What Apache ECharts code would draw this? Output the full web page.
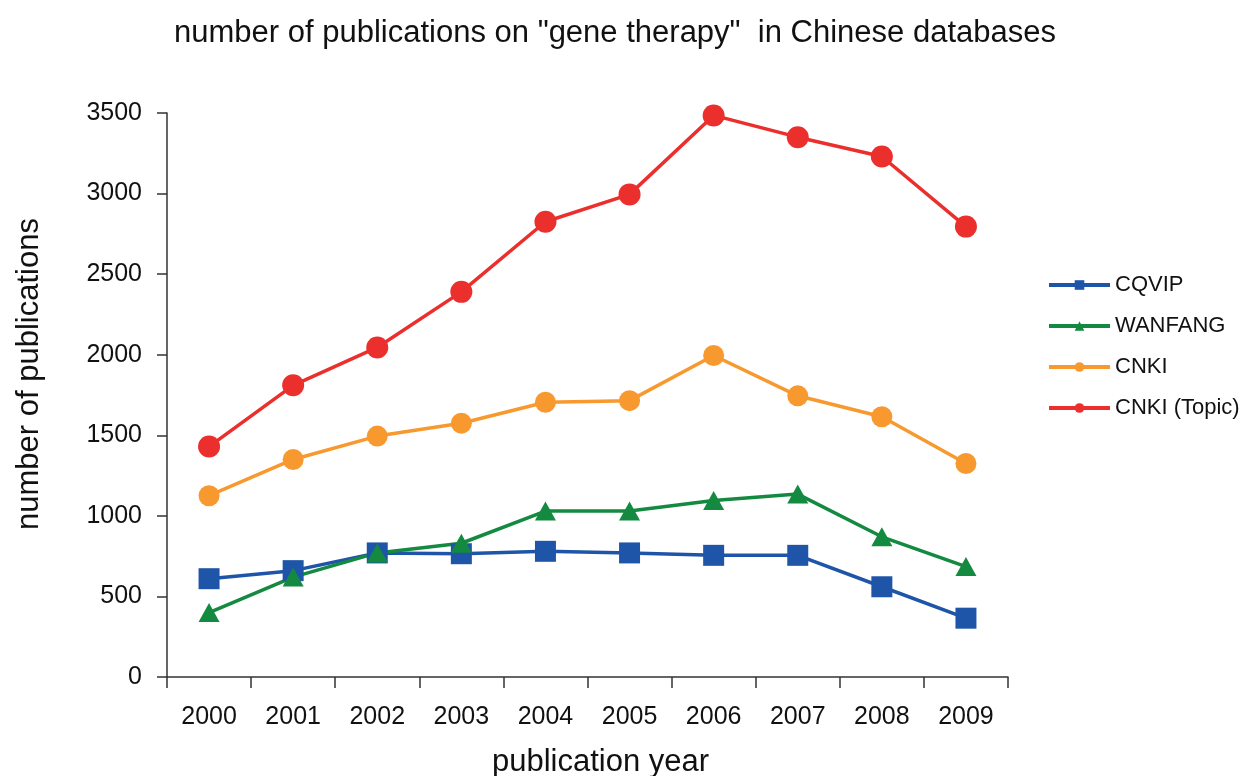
<!DOCTYPE html>
<html>
<head>
<meta charset="utf-8">
<script src="https://cdn.jsdelivr.net/npm/echarts@6/dist/echarts.min.js"></script>
<style>
  html, body { margin: 0; padding: 0; background: #fff; }
  #main { width: 1241px; height: 776px; }
</style>
</head>
<body>
<div id="main"></div>
<script>
var years = ['2000','2001','2002','2003','2004','2005','2006','2007','2008','2009'];
var cqvip = [610, 660, 770, 765, 780, 770, 755, 755, 560, 365];
var wanfang = [400, 620, 770, 830, 1030, 1030, 1095, 1135, 870, 685];
var cnki = [1125, 1350, 1495, 1575, 1705, 1715, 1995, 1745, 1615, 1325];
var cnkiTopic = [1430, 1810, 2045, 2390, 2825, 2995, 3485, 3350, 3230, 2795];

var font = 'Liberation Sans, Arial, sans-serif';

// 各数据库的折线
function makeLine(name, data, color, symbol, size) {
    return {
        name: name,
        type: 'line',
        data: data,
        symbol: symbol,
        symbolSize: size,
        itemStyle: { color: color },
        lineStyle: { color: color, width: 3.5 },
        emphasis: { disabled: true }
    };
}

var chart = echarts.init(document.getElementById('main'));

var option = {
    animation: false,
    backgroundColor: '#fff',
    title: {
        text: 'number of publications on "gene therapy"  in Chinese databases',
        left: 610,
        textAlign: 'center',
        top: 13,
        textStyle: { fontFamily: font, fontSize: 31, fontWeight: 'normal', color: '#111' }
    },
    legend: {
        orient: 'vertical',
        left: 1047,
        top: 274,
        padding: 0,
        itemWidth: 61,
        itemHeight: 12,
        itemGap: 19,
        lineStyle: { width: 4 },
        textStyle: { fontFamily: font, fontSize: 22, color: '#111' },
        data: ['CQVIP', 'WANFANG', 'CNKI', 'CNKI (Topic)']
    },
    grid: {
        left: 167,
        right: 233,
        top: 113,
        bottom: 99,
        outerBoundsMode: 'none',
        containLabel: false
    },
    xAxis: {
        type: 'category',
        data: years,
        boundaryGap: true,
        name: 'publication year',
        nameLocation: 'middle',
        nameGap: 70,
        nameTextStyle: { fontFamily: font, fontSize: 31, color: '#111', padding: [0, 0, 0, 26] },
        axisLine: { lineStyle: { color: '#333', width: 1.5 } },
        axisTick: { show: true, length: 11, lineStyle: { color: '#333', width: 1.5 } },
        axisLabel: { fontFamily: font, fontSize: 25, color: '#111', margin: 28 },
        splitLine: { show: false }
    },
    yAxis: {
        type: 'value',
        min: 0,
        max: 3500,
        interval: 500,
        name: 'number of publications',
        nameLocation: 'middle',
        nameGap: 122,
        nameTextStyle: { fontFamily: font, fontSize: 31, color: '#111', padding: [0, 0, 0, 42] },
        axisLine: { show: true, lineStyle: { color: '#333', width: 1.5 } },
        axisTick: { show: true, length: 10, lineStyle: { color: '#333', width: 1.5 } },
        axisLabel: { fontFamily: font, fontSize: 25, color: '#111', margin: 25,
            formatter: function (v) { return String(v); } },
        splitLine: { show: false }
    },
    series: [
        makeLine('CQVIP', cqvip, '#1f55a8', 'rect', 21),
        makeLine('WANFANG', wanfang, '#138a40', 'triangle', [21, 19]),
        makeLine('CNKI', cnki, '#f7992f', 'circle', 21),
        makeLine('CNKI (Topic)', cnkiTopic, '#ea2f2d', 'circle', 22)
    ]
};

chart.setOption(option);
</script>
</body>
</html>
